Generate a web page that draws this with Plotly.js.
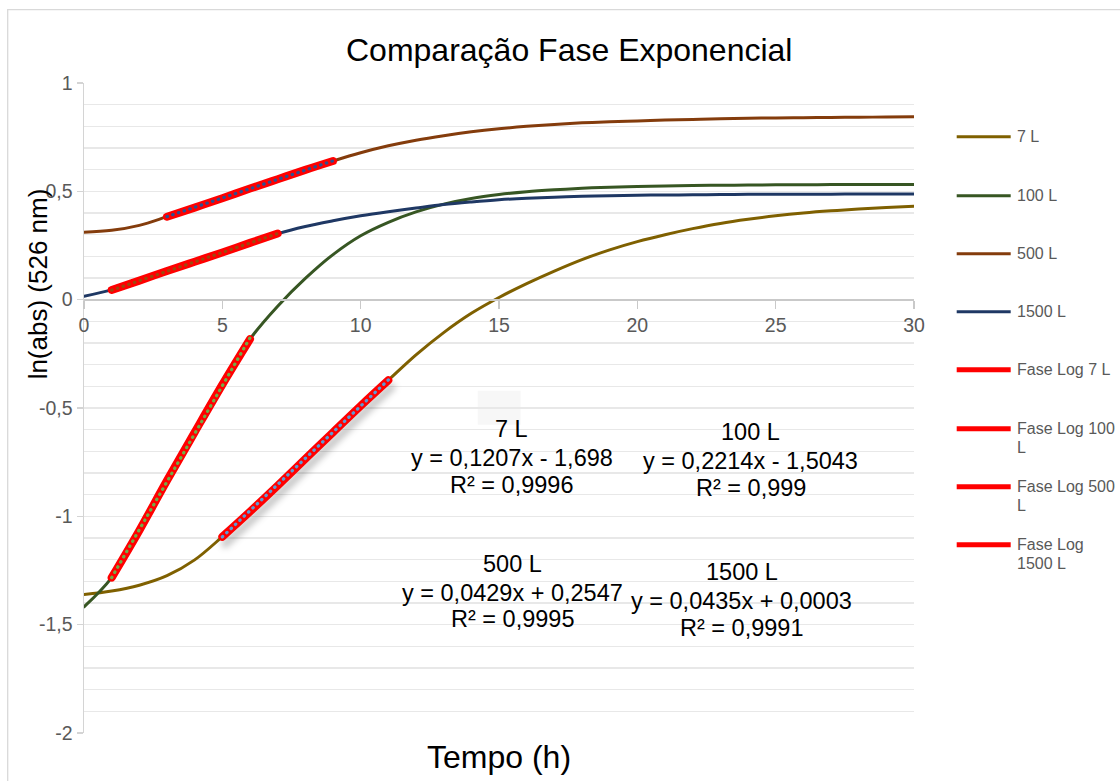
<!DOCTYPE html>
<html>
<head>
<meta charset="utf-8">
<script src="https://cdn.plot.ly/plotly-3.0.1.min.js"></script>
<style>
  html, body { margin: 0; padding: 0; background: #ffffff; }
  #chart { width: 1120px; height: 781px; }
  .scatterlayer .js-line { stroke-linecap: round; }
</style>
</head>
<body>
<div id="chart"></div>
<script>
// Time axis (hours)
const hours = [0, 1, 2, 3, 4, 5, 6, 7, 8, 9, 10, 11, 12, 13, 14, 15, 16, 17, 18, 19, 20,
               21, 22, 23, 24, 25, 26, 27, 28, 29, 30];

// ln(absorbance at 526 nm) for each reactor volume
const ln7L = [-1.361, -1.345, -1.318, -1.274, -1.201, -1.094, -0.978, -0.858, -0.735, -0.612, -0.490,
              -0.372, -0.255, -0.152, -0.063, 0.010, 0.074, 0.132, 0.185, 0.230, 0.268,
              0.300, 0.328, 0.352, 0.371, 0.387, 0.400, 0.410, 0.418, 0.425, 0.431];
const ln100L = [-1.418, -1.283, -1.065, -0.835, -0.612, -0.392, -0.182, -0.030, 0.098, 0.208, 0.295,
                0.357, 0.405, 0.441, 0.467, 0.485, 0.498, 0.507, 0.514, 0.519, 0.522,
                0.525, 0.527, 0.528, 0.529, 0.530, 0.530, 0.531, 0.531, 0.531, 0.531];
const ln500L = [0.311, 0.320, 0.343, 0.383, 0.425, 0.468, 0.513, 0.556, 0.599, 0.640, 0.678,
                0.710, 0.736, 0.757, 0.775, 0.789, 0.800, 0.809, 0.816, 0.821, 0.825,
                0.829, 0.832, 0.835, 0.837, 0.839, 0.840, 0.841, 0.842, 0.843, 0.844];
const ln1500L = [0.016, 0.045, 0.088, 0.132, 0.175, 0.218, 0.262, 0.305, 0.338, 0.364, 0.387,
                 0.406, 0.423, 0.439, 0.451, 0.461, 0.468, 0.473, 0.477, 0.480, 0.482,
                 0.483, 0.484, 0.485, 0.486, 0.486, 0.487, 0.487, 0.488, 0.488, 0.488];

const seriesNames = ['7 L', '100 L', '500 L', '1500 L'];
const seriesValues = [ln7L, ln100L, ln500L, ln1500L];

// Exponential (log) phase window for each volume, in hours
const logStart = [5, 1, 3, 1];
const logEnd = [11, 6, 9, 7];

// Linear fits of the log phase
const fitSlope = [0.1207, 0.2214, 0.0429, 0.0435];
const fitIntercept = [-1.698, -1.5043, 0.2547, 0.0003];
const fitR2 = ['0,9996', '0,999', '0,9995', '0,9991'];

// Axis ticks
const xTickVals = [0, 5, 10, 15, 20, 25, 30];
const yTickVals = [-2, -1.5, -1, -0.5, 0, 0.5, 1];
const yTickText = ['-2', '-1,5', '-1', '-0,5', '0', '0,5', '1'];

// Styling
const lineColors = ['#7f6000', '#375623', '#843c0c', '#1f3864'];
const fitColors = ['#5b9bd5', '#70ad47', '#2f4f8f', '#9e480e'];
const logColor = '#ff0000';
const FONT = 'Liberation Sans, Arial, sans-serif';

// Plot area in pixels (1120 x 781 canvas)
const PL = 84.3, PR = 914.3, PT = 83.3, PB = 733.4;
const W = 1120, H = 781;
const px = v => (v - PL) / (PR - PL);
const py = v => (PB - v) / (PB - PT);

const fmt = v => v.toFixed(4).replace(/0+$/, '').replace(/\.$/, '').replace('.', ',');

// Light horizontal guide lines every 0.1 between the labelled ticks
const yMinorVals = [];
for (let k = -19; k <= 9; k++) { if (k % 5 !== 0) yMinorVals.push(k / 10); }

const traces = [];
// Growth curves
seriesValues.forEach((vals, i) => {
  traces.push({
    x: hours, y: vals, type: 'scatter', mode: 'lines', name: seriesNames[i],
    line: { color: lineColors[i], width: 3, shape: 'spline', smoothing: 1 },
    hoverinfo: 'skip', showlegend: false
  });
});
// Log-phase segments
seriesValues.forEach((vals, i) => {
  traces.push({
    x: hours.slice(logStart[i], logEnd[i] + 1),
    y: vals.slice(logStart[i], logEnd[i] + 1),
    type: 'scatter', mode: 'lines', name: 'Fase Log ' + seriesNames[i],
    line: { color: logColor, width: 8, shape: 'spline' },
    hoverinfo: 'skip', showlegend: false
  });
});
// Dotted linear trendlines over each log phase
seriesValues.forEach((vals, i) => {
  const xs = [logStart[i], logEnd[i]];
  traces.push({
    x: xs, y: xs.map(t => fitSlope[i] * t + fitIntercept[i]),
    type: 'scatter', mode: 'lines', name: 'Linear (' + seriesNames[i] + ')',
    line: { color: fitColors[i], width: 3.2, dash: '0.5px,5.5px' },
    hoverinfo: 'skip', showlegend: false
  });
});

const annotations = [];
const shapes = [];

// Equation blocks: [center x, label y, equation y, R² y] in px
const eqPos = [
  [512, 429, 458, 485],
  [751, 432, 461, 488],
  [513, 564, 593, 619],
  [742, 572, 601, 628]
];
eqPos.forEach((p, i) => {
  const sign = fitIntercept[i] < 0 ? ' - ' : ' + ';
  const lines = [
    seriesNames[i],
    'y = ' + fmt(fitSlope[i]) + 'x' + sign + fmt(Math.abs(fitIntercept[i])),
    'R² = ' + fitR2[i]
  ];
  [p[1], p[2], p[3]].forEach((yy, k) => {
    annotations.push({
      xref: 'paper', yref: 'paper', x: px(p[0]), y: py(yy),
      xanchor: 'center', yanchor: 'middle', showarrow: false,
      text: lines[k], font: { family: FONT, size: 23.5, color: '#000000' }
    });
  });
});

// Legend (right side)
const legendNames = seriesNames.concat(['Fase Log 7 L', 'Fase Log 100<br>L', 'Fase Log 500<br>L', 'Fase Log<br>1500 L']);
const legendColors = lineColors.concat([logColor, logColor, logColor, logColor]);
const legendY = [137, 196, 254, 312, 370, 429, 487, 545];
legendNames.forEach((nm, i) => {
  const isLog = i >= 4;
  shapes.push({
    type: 'line', xref: 'paper', yref: 'paper',
    x0: px(957), x1: px(1011), y0: py(legendY[i]), y1: py(legendY[i]),
    line: { color: legendColors[i], width: isLog ? 5 : 3 }
  });
  nm.split('<br>').forEach((t, k) => {
    annotations.push({
      xref: 'paper', yref: 'paper', x: px(1015), y: py(legendY[i] + k * 18.5),
      xanchor: 'left', yanchor: 'middle', showarrow: false,
      text: t, font: { family: FONT, size: 16, color: '#595959' }
    });
  });
});

// Titles
annotations.push({
  xref: 'paper', yref: 'paper', x: px(569), y: py(50), xanchor: 'center', yanchor: 'middle',
  showarrow: false, text: 'Comparação Fase Exponencial',
  font: { family: FONT, size: 32, color: '#000000' }
});
annotations.push({
  xref: 'paper', yref: 'paper', x: px(499), y: py(757), xanchor: 'center', yanchor: 'middle',
  showarrow: false, text: 'Tempo (h)',
  font: { family: FONT, size: 32, color: '#000000' }
});
annotations.push({
  xref: 'paper', yref: 'paper', x: px(38), y: py(284), xanchor: 'center', yanchor: 'middle',
  showarrow: false, text: 'ln(abs) (526 nm)', textangle: -90,
  font: { family: FONT, size: 26, color: '#000000' }
});

// Faint box behind the first equation label
shapes.push({
  type: 'rect', xref: 'paper', yref: 'paper', layer: 'below',
  x0: px(478), x1: px(521), y0: py(425), y1: py(391),
  fillcolor: 'rgba(0,0,0,0.03)', line: { width: 0 }
});
// Chart outline
shapes.push({
  type: 'rect', xref: 'paper', yref: 'paper',
  x0: px(8), x1: px(1140), y0: py(800), y1: py(10),
  line: { color: '#d9d9d9', width: 1.3 }, fillcolor: 'rgba(0,0,0,0)'
});

const tickFont = { family: FONT, size: 19.5, color: '#595959' };

const layout = {
  width: W, height: H,
  margin: { l: PL, r: W - PR, t: PT, b: H - PB, pad: 0 },
  paper_bgcolor: '#ffffff', plot_bgcolor: '#ffffff',
  separators: ', ',
  showlegend: false,
  hovermode: false,
  xaxis: {
    range: [0, 30], tickmode: 'array', tickvals: xTickVals,
    anchor: 'free', position: 2 / 3,
    showgrid: false, zeroline: false,
    showline: true, linecolor: '#c9c9c9', linewidth: 2,
    ticks: 'outside', ticklen: 8, tickwidth: 1.5, tickcolor: '#c9c9c9',
    tickfont: tickFont
  },
  yaxis: {
    range: [-2, 1], tickmode: 'array', tickvals: yTickVals, ticktext: yTickText,
    showgrid: true, gridcolor: '#e8e8e8', gridwidth: 1.5,
    minor: { tickmode: 'array', tickvals: yMinorVals, showgrid: true, gridcolor: '#e8e8e8', gridwidth: 1.5, ticks: '' },
    zeroline: false,
    showline: true, linecolor: '#d4d4d4', linewidth: 1.5,
    ticks: 'outside', ticklen: 6, tickwidth: 1.5, tickcolor: '#d4d4d4',
    tickfont: tickFont
  },
  annotations: annotations,
  shapes: shapes
};

Plotly.newPlot('chart', traces, layout, { displayModeBar: false, staticPlot: true }).then(gd => {
  // soft shadow under the 7 L log-phase segment
  const tr = gd.querySelectorAll('.scatterlayer .trace');
  if (tr[4]) tr[4].style.filter = 'drop-shadow(3px 7px 3px rgba(0,0,0,0.22))';
});
</script>
</body>
</html>
